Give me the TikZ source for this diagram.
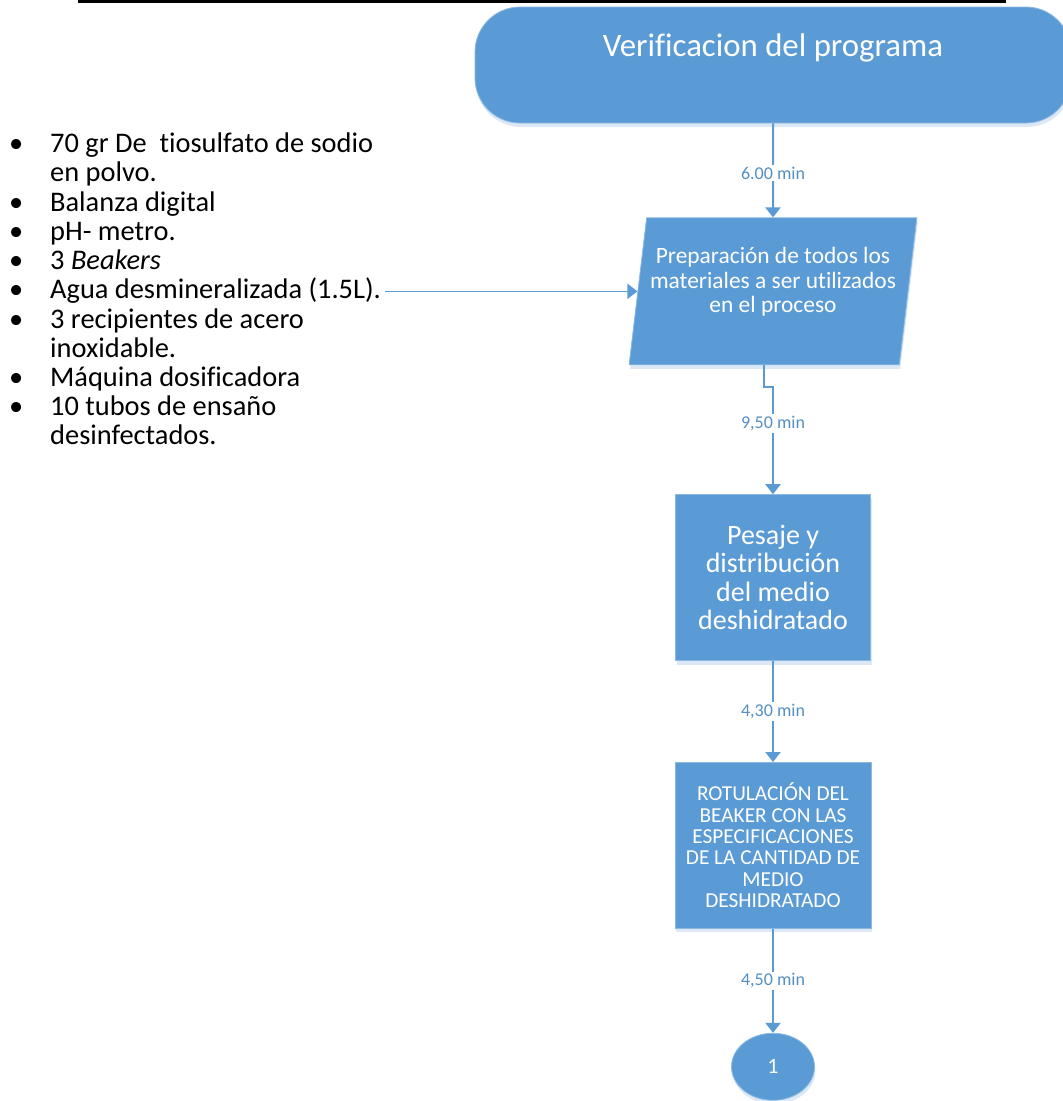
\documentclass[tikz,border=0pt]{standalone}
\usepackage{fontspec}
\setmainfont{Carlito}[Ligatures=NoCommon]
\usepackage{xcolor}
\usepackage{tikz}
\usetikzlibrary{
  arrows.meta,
  positioning,
  shapes.geometric,
  shadows
}
\definecolor{boxblue}{HTML}{5B9BD5}
\definecolor{shadeblue}{HTML}{DCE8F5}

\begin{document}
\begin{tikzpicture}[x=1pt, y=-1pt, >=Stealth,
  flow/.style={draw=boxblue, line width=2pt, -{Triangle[width=15pt,length=10pt]}},
  blockfill/.style={fill=boxblue, draw=boxblue!70!white, line width=0.8pt,
    drop shadow={fill=shadeblue, opacity=1, shadow xshift=1pt, shadow yshift=-4pt}},
  timelabel/.style={fill=white, text=boxblue!92!black, font=\fontsize{18}{20}\selectfont, inner sep=2pt},
  boxtext/.style={text=white, align=center, inner sep=0pt}
]
\useasboundingbox (0,0) rectangle (1063,1101);

% line on top of the page
\draw[line width=3pt] (78,1.5) -- (1006,1.5);

\node[blockfill, rounded corners=45pt, minimum width=596pt, minimum height=116pt,
  inner sep=0pt, text=white, text height=49pt, text depth=67pt,
  font=\fontsize{32.8}{36}\selectfont] (verif) at (773,65) {Verificacion del programa};

\node[blockfill, boxtext, trapezium, trapezium left angle=79, trapezium right angle=101,
  trapezium stretches=true, minimum width=289pt, minimum height=147pt,
  font=\fontsize{23.4}{24.5}\selectfont, below=94pt of verif] (prep)
  {Preparación de todos los\\materiales a ser utilizados\\en el proceso\\[-2pt]\mbox{}};

\node[blockfill, boxtext, minimum width=195pt, minimum height=166pt,
  font=\fontsize{28}{28.4}\selectfont, below=129pt of prep] (pesaje)
  {Pesaje y\\distribución\\del medio\\deshidratado};

\node[blockfill, boxtext, minimum width=196pt, minimum height=166pt,
  font=\fontsize{21.3}{21.4}\selectfont, below=101pt of pesaje] (rotul)
  {ROTULACIÓN DEL\\BEAKER CON LAS\\ESPECIFICACIONES\\DE LA CANTIDAD DE\\MEDIO\\DESHIDRATADO};

\node[blockfill, ellipse, minimum width=83pt, minimum height=67pt, inner sep=0pt,
  text=white, font=\fontsize{22}{24}\selectfont, below=104pt of rotul] (conn1) {1};

% list of materials
\node[anchor=north west, inner sep=0pt, font=\fontsize{28.4}{29.2}\selectfont] (materiales) at (0,132) {%
  \begin{tabular}{@{}p{50pt}@{}l@{}}
  \hspace*{9pt}\textbullet & 70 gr De\ \ tiosulfato de sodio\\
   & en polvo.\\
  \hspace*{9pt}\textbullet & Balanza digital\\
  \hspace*{9pt}\textbullet & pH- metro.\\
  \hspace*{9pt}\textbullet & 3 \textit{Beakers}\\
  \hspace*{9pt}\textbullet & Agua desmineralizada (1.5L).\\
  \hspace*{9pt}\textbullet & 3 recipientes de acero\\
   & inoxidable.\\
  \hspace*{9pt}\textbullet & Máquina dosificadora\\
  \hspace*{9pt}\textbullet & 10 tubos de ensaño\\
   & desinfectados.
  \end{tabular}};
\coordinate (agua) at (385,0 |- prep.west);

\draw[flow] (verif) -- node[timelabel, pos=0.53]{6.00 min} (prep);
\draw[flow, line width=1.5pt] (agua) -- (prep.west);
\draw[flow] (prep.bottom side) -- ++(0,22) -| node[timelabel, pos=0.67]{9,50 min} (pesaje.north);
\draw[flow] (pesaje) -- node[timelabel, midway]{4,30 min} (rotul);
\draw[flow] (rotul) -- node[timelabel, midway]{4,50 min} (conn1);
\end{tikzpicture}
\end{document}
